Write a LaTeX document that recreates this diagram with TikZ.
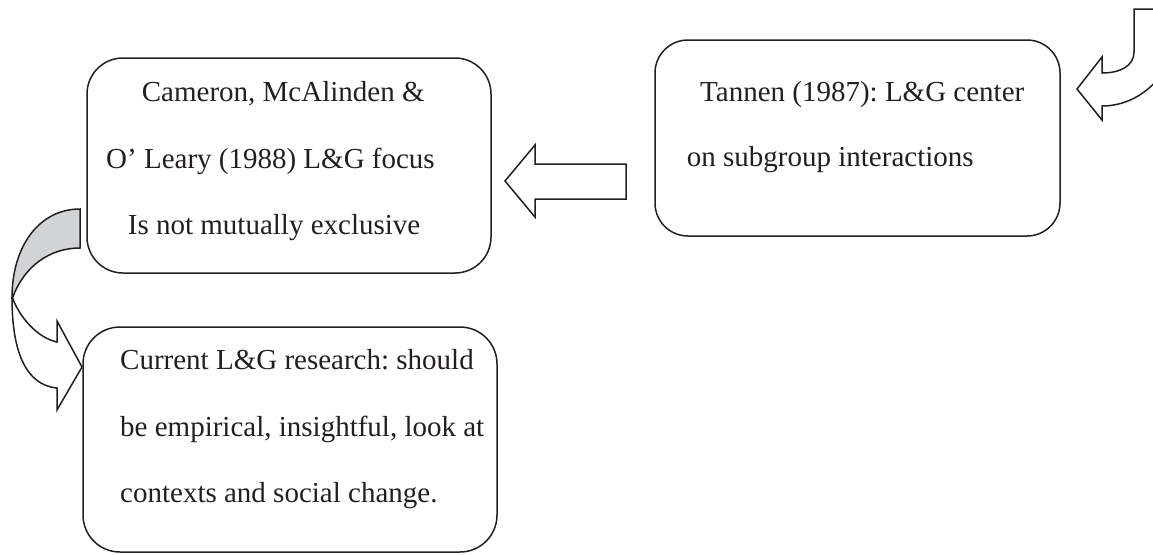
\documentclass[tikz,border=0pt]{standalone}
\usepackage{fontspec}
\setmainfont{Liberation Serif}
\definecolor{ink}{RGB}{35,31,32}
\definecolor{shade}{RGB}{209,211,212}
\frenchspacing
\begin{document}
\begin{tikzpicture}[x=1pt,y=-1pt,
  box/.style={draw=ink, line width=1.5pt, rounded corners=#1pt, inner sep=0pt},
  txt/.style={anchor=base west, inner sep=0pt, text=ink, font=\fontsize{29}{34}\selectfont},
  blockarrow/.style={draw=ink, line width=1.5pt, line join=miter, fill=white},
  backface/.style={draw=ink, line width=1.5pt, line join=miter, fill=shade}]
\useasboundingbox (0,0) rectangle (1153,554);

% rounded boxes
\node[box=36, minimum width=404pt, minimum height=215pt] (cameron) at (289,165.5) {};
\node[box=33, minimum width=405pt, minimum height=196pt] (tannen) at (857.5,138) {};
\node[box=37, minimum width=414pt, minimum height=225pt] (current) at (290,439.5) {};

% box texts
\node[txt] (c1) at (141.7,101.5) {Cameron, McAlinden \&};
\node[txt] (c2) at (106,168) {O’ Leary (1988) L\&G focus};
\node[txt] (c3) at (127.7,234.5) {Is not mutually exclusive};

\node[txt] (t1) at (700,101.7) {Tannen (1987): L\&G center};
\node[txt] (t2) at (686.7,166.7) {on subgroup interactions};

\node[txt] (r1) at (120,369) {Current L\&G research: should};
\node[txt] (r2) at (120,436) {be empirical, insightful, look at};
\node[txt] (r3) at (120,502) {contexts and social change.};

% straight block arrow from Tannen to Cameron
\draw[blockarrow] (626,164) -- (535,164) -- (535,145) -- (505,181)
  -- (535,217) -- (535,199) -- (626,199) -- cycle;

% curved arrow entering Tannen from the top right
\begin{scope}
  \clip (0,0) rectangle (1153,554);
  \draw[blockarrow] (1134,9) -- (1134,52) .. controls (1134,66) and (1120,73) .. (1102,73)
    -- (1102,57) -- (1077,89) -- (1102,120) -- (1102,106)
    .. controls (1128,106) and (1150,92) .. (1165,70) -- (1175,60) -- (1175,9) -- cycle;
\end{scope}

% curved arrow from Cameron down to Current
\draw[blockarrow] (12,298) .. controls (12,350) and (25,385) .. (57,388)
  -- (57,410) -- (82,367) -- (57,321) -- (57,342)
  .. controls (38,338) and (20,318) .. (12.5,298) -- cycle;
\draw[backface] (80,209) -- (80,248) .. controls (50,248) and (24,266) .. (12.5,298)
  -- (12,298) .. controls (12,245) and (40,209) .. (80,209) -- cycle;
\end{tikzpicture}
\end{document}
